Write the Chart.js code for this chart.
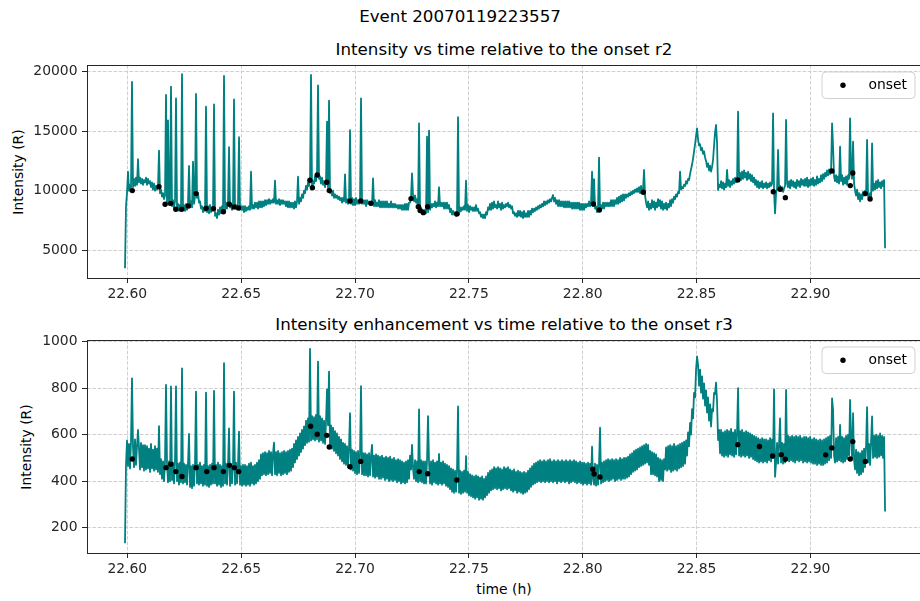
<!DOCTYPE html>
<html>
<head>
<meta charset="utf-8">
<title>Event 20070119223557</title>
<script src="https://cdn.jsdelivr.net/npm/chart.js@4.4.1/dist/chart.umd.min.js"></script>
<style>
  html, body { margin: 0; padding: 0; background: #fff; overflow: hidden; }
  #fig { position: relative; width: 920px; height: 601px; overflow: hidden;
         font-family: 'DejaVu Sans', sans-serif; color: #000; background: #fff; }
  #fig canvas { position: absolute; left: 0; }
  .lbl { position: absolute; white-space: nowrap; line-height: 1;
         transform: translate(-50%, -50%); }
  .rot { transform: translate(-50%, -50%) rotate(-90deg); }
</style>
</head>
<body>
<div id="fig">
  <div class="lbl" style="left:460px;top:16px;font-size:16.7px">Event 20070119223557</div>
  <div class="lbl" style="left:504px;top:49px;font-size:16.7px">Intensity vs time relative to the onset r2</div>
  <div class="lbl" style="left:504px;top:324px;font-size:16.7px">Intensity enhancement vs time relative to the onset r3</div>
  <div class="lbl" style="left:504px;top:590px;font-size:13.9px">time (h)</div>
  <div class="lbl rot" style="left:18.5px;top:172px;font-size:13.9px">Intensity (R)</div>
  <div class="lbl rot" style="left:27px;top:447px;font-size:13.9px">Intensity (R)</div>
  <canvas id="topChart" width="930" height="310" style="top:0px"></canvas>
  <canvas id="bottomChart" width="930" height="291" style="top:310px"></canvas>
</div>
<script>
// Sampling of the photometer record (hours UT)
const sampleStart = 22.59899;
const sampleStep = 0.0004392;

// Intensity of region r2 (R), one value per sample
const r2Intensity = [
  3480, 8700, 9800, 11600, 10000, 10500, 10200, 19150, 10300, 11000, 10400, 11100, 10500, 12650, 10700, 11100, 10600, 11000, 10500, 10900,
  10700, 11100, 10500, 11000, 10600, 10800, 10300, 10700, 10100, 10600, 10000, 10400, 10100, 10340, 13370, 9800, 10100, 9500, 9800, 9300,
  9600, 18040, 8900, 15900, 8800, 9200, 18740, 8700, 9200, 8600, 9100, 17760, 8500, 8900, 8300, 8800, 8300, 19800, 8400, 8800,
  8300, 8900, 8400, 9000, 12080, 8600, 9100, 8600, 12440, 8900, 9500, 18130, 9400, 9800, 9000, 9100, 8500, 8700, 8200, 8600,
  8300, 17060, 8200, 8700, 8100, 8800, 8200, 8600, 8300, 17260, 7900, 8100, 7700, 8400, 8000, 8600, 8100, 8700, 8200, 19640,
  8400, 9000, 8500, 9100, 13650, 8600, 8900, 8400, 8900, 17680, 8500, 8800, 8600, 8900, 14490, 8400, 8700, 8400, 8700, 8200,
  8700, 8300, 8600, 8400, 8700, 8400, 11600, 8500, 8800, 8500, 9000, 8600, 9000, 8500, 9100, 8600, 9100, 8600, 9100, 8700,
  9200, 8800, 9200, 8900, 9300, 8900, 9200, 9000, 9300, 9000, 10850, 8900, 9200, 8900, 9300, 8800, 9200, 8900, 9200, 8900,
  9100, 8700, 9100, 8600, 9100, 8600, 9000, 8600, 9000, 8500, 9100, 8600, 9100, 11180, 8900, 9400, 9100, 9700, 9400, 10000,
  9800, 10400, 10100, 10700, 10400, 11000, 19720, 10100, 10800, 10600, 11200, 10800, 11500, 18850, 11000, 11200, 10600, 11100, 10500, 10800,
  10300, 10800, 15800, 10200, 17570, 9800, 10100, 9600, 10000, 9400, 9700, 9400, 9600, 9300, 9500, 9200, 9400, 9000, 9400, 9100,
  11380, 9000, 9300, 8900, 9300, 15080, 8900, 9400, 8800, 9300, 8800, 9400, 8900, 9200, 8900, 9200, 17760, 8900, 9200, 8900,
  9200, 8700, 9200, 8900, 9100, 8800, 9100, 8800, 11040, 8700, 9200, 8700, 9000, 8700, 9200, 8600, 9100, 8600, 9100, 8600,
  9100, 8600, 9100, 8600, 8900, 8600, 9100, 8600, 8900, 8600, 8900, 8600, 8800, 8500, 8800, 8500, 8800, 8400, 8800, 8400,
  8900, 8400, 8900, 8400, 9000, 9000, 9500, 11460, 9600, 9100, 9600, 9000, 9300, 8600, 15660, 8400, 8600, 8100, 8400, 8100,
  8400, 8100, 14540, 8200, 15050, 8400, 8900, 8600, 8900, 8700, 9100, 8600, 9000, 8700, 10290, 8700, 9000, 8700, 9000, 8500,
  9000, 8500, 9000, 8500, 8800, 8200, 8500, 8000, 8300, 8000, 8200, 7900, 8200, 16170, 8000, 8600, 8300, 8600, 8400, 8700,
  8400, 10850, 8300, 8800, 8200, 8700, 8400, 8600, 8300, 8600, 8300, 8800, 8300, 8500, 8100, 8200, 7800, 8000, 7700, 8000,
  7700, 8200, 8000, 8600, 8400, 8900, 8400, 9000, 8500, 9100, 8600, 8800, 8500, 9100, 8600, 8900, 8400, 9000, 8500, 8800,
  8600, 8900, 8700, 9000, 8600, 8800, 8500, 8700, 8100, 8200, 7900, 8100, 7800, 8300, 7900, 8300, 7800, 8200, 7700, 8300,
  7800, 8100, 7800, 8300, 7800, 8300, 8000, 8500, 8200, 8500, 8300, 8600, 8400, 8700, 8500, 8800, 8600, 8900, 8700, 9100,
  8800, 9100, 8900, 9200, 9000, 9300, 9100, 9400, 9640, 9100, 9400, 8900, 9200, 8700, 9200, 8700, 9100, 8700, 9100, 8600,
  9100, 8600, 9100, 8600, 9100, 8600, 9000, 8500, 9000, 8500, 9000, 8500, 9000, 8500, 9000, 8400, 8900, 8400, 8900, 8400,
  8900, 8600, 8900, 8700, 9100, 8700, 9000, 11600, 8700, 10970, 8500, 8700, 8200, 8600, 12780, 8300, 8800, 8500, 9000, 8500,
  9000, 8700, 9000, 8700, 9000, 8700, 9200, 8700, 9200, 8700, 9200, 8900, 9400, 8900, 9500, 9000, 9600, 9100, 9700, 9200,
  9700, 9400, 9700, 9500, 9800, 9600, 9900, 9700, 10000, 9800, 10100, 9900, 10200, 9900, 10300, 9800, 10400, 9800, 10100, 11740,
  9600, 9000, 8600, 9100, 8400, 8900, 8500, 9200, 8600, 9100, 8400, 9000, 8600, 9300, 8700, 9200, 8500, 9100, 8400, 8900,
  8500, 9000, 8400, 8900, 8600, 9200, 8700, 9300, 9000, 9500, 9300, 9700, 9500, 9900, 9800, 11600, 10100, 10300, 10200, 10500,
  10400, 10800, 10600, 11000, 10900, 11400, 11800, 12200, 12700, 13300, 13900, 14600, 15240, 14300, 13800, 13900, 13400, 13600, 13100, 13300,
  12800, 12500, 12000, 12300, 11700, 12100, 11600, 12000, 12600, 13800, 14900, 15520, 14000, 10060, 10500, 10300, 10800, 10200, 10700, 10100,
  10600, 10300, 11740, 10400, 10900, 10300, 10800, 10500, 11000, 10600, 11100, 10700, 10900, 16640, 11000, 11500, 10900, 11600, 11000, 11700,
  11100, 11500, 10900, 11600, 11000, 11400, 10800, 11300, 10700, 11100, 10500, 10900, 10300, 10800, 10200, 10700, 10300, 10800, 10200, 10600,
  10300, 10700, 10200, 10600, 10300, 10700, 10400, 10600, 16500, 9900, 8100, 9800, 10200, 13420, 10100, 10400, 10000, 10300, 9900, 10200,
  10400, 15940, 10600, 10300, 10800, 10200, 10900, 10400, 10800, 10300, 10700, 10200, 10900, 10400, 10800, 10300, 11000, 10500, 10900, 10400,
  11000, 10400, 11100, 10300, 10900, 10400, 11000, 10500, 11100, 10400, 10900, 10500, 11200, 10600, 11000, 10700, 11300, 10800, 11400, 11000,
  11500, 11200, 11700, 11300, 11800, 11400, 11700, 15660, 13700, 11200, 10800, 11300, 10700, 11200, 10600, 13700, 10800, 11300, 10500, 11100,
  10600, 11200, 10500, 11300, 11000, 16080, 11400, 11000, 14120, 10600, 10000, 9600, 10100, 9300, 9800, 9100, 9700, 9300, 9900, 9600,
  10000, 9700, 14260, 9500, 9400, 9800, 9300, 13980, 10000, 10600, 10100, 10800, 10200, 10900, 10300, 10700, 10200, 10800, 10400, 10900,
  5160
];

// Intensity enhancement of region r3 (R), one value per sample
const r3Intensity = [
  133, 470, 575, 465, 560, 455, 570, 842, 545, 460, 580, 470, 550, 620, 540, 450, 565, 460, 555, 445,
  555, 450, 550, 455, 540, 440, 560, 455, 535, 445, 550, 450, 540, 440, 637, 430, 495, 410, 485, 400,
  480, 814, 475, 395, 485, 400, 807, 405, 480, 390, 490, 807, 400, 475, 385, 480, 395, 885, 390, 475,
  395, 470, 385, 475, 603, 375, 465, 370, 470, 380, 475, 785, 390, 470, 385, 480, 390, 465, 380, 470,
  385, 781, 380, 465, 375, 470, 385, 475, 390, 788, 390, 470, 380, 480, 385, 470, 375, 465, 380, 907,
  390, 475, 385, 470, 627, 380, 475, 390, 470, 785, 385, 480, 390, 470, 613, 385, 465, 380, 470, 385,
  470, 380, 465, 385, 475, 380, 480, 390, 465, 385, 470, 390, 480, 400, 490, 410, 515, 425, 520, 430,
  525, 425, 520, 430, 530, 435, 525, 425, 520, 566, 430, 525, 425, 530, 435, 520, 425, 525, 430, 530,
  435, 525, 430, 530, 440, 535, 445, 540, 460, 560, 480, 575, 495, 590, 510, 605, 525, 620, 540, 635,
  555, 660, 565, 670, 570, 969, 575, 680, 580, 675, 575, 685, 580, 914, 570, 680, 575, 670, 565, 660,
  560, 655, 795, 640, 871, 550, 640, 540, 630, 530, 615, 520, 605, 510, 590, 495, 580, 485, 565, 475,
  560, 470, 550, 460, 545, 692, 450, 535, 445, 530, 435, 525, 430, 530, 435, 520, 809, 430, 520, 425,
  520, 425, 515, 420, 520, 425, 510, 556, 420, 510, 415, 515, 420, 510, 410, 505, 410, 510, 415, 500,
  405, 505, 410, 500, 400, 505, 405, 495, 400, 500, 405, 490, 395, 495, 400, 490, 390, 485, 395, 480,
  390, 485, 395, 490, 410, 510, 450, 556, 455, 410, 490, 400, 485, 395, 709, 400, 490, 395, 485, 390,
  485, 390, 490, 680, 480, 390, 485, 385, 490, 395, 480, 390, 485, 385, 517, 390, 480, 385, 485, 390,
  475, 380, 470, 375, 465, 365, 455, 355, 450, 350, 445, 355, 450, 721, 350, 445, 345, 440, 350, 445,
  355, 508, 350, 440, 340, 430, 335, 425, 330, 420, 325, 425, 330, 420, 320, 415, 325, 420, 320, 410,
  330, 420, 340, 435, 350, 445, 360, 450, 365, 460, 370, 455, 365, 460, 370, 455, 360, 450, 365, 460,
  370, 455, 365, 460, 370, 450, 360, 445, 355, 450, 360, 440, 350, 445, 355, 440, 350, 435, 345, 440,
  350, 435, 355, 445, 365, 455, 375, 465, 385, 475, 390, 480, 395, 485, 400, 490, 395, 485, 400, 490,
  395, 485, 400, 490, 395, 495, 400, 485, 395, 490, 400, 485, 390, 490, 400, 485, 395, 490, 400, 485,
  395, 490, 400, 485, 390, 490, 395, 485, 400, 490, 395, 485, 390, 480, 395, 485, 390, 480, 385, 480,
  390, 475, 385, 480, 390, 475, 385, 548, 410, 385, 475, 380, 470, 385, 475, 630, 390, 480, 395, 485,
  400, 490, 405, 495, 400, 490, 405, 495, 410, 490, 400, 495, 405, 490, 410, 500, 405, 495, 410, 500,
  410, 500, 415, 505, 420, 515, 430, 520, 440, 530, 445, 535, 450, 540, 460, 545, 465, 550, 470, 555,
  475, 560, 480, 556, 470, 530, 430, 525, 430, 520, 425, 515, 420, 500, 400, 495, 405, 490, 400, 495,
  450, 545, 445, 550, 450, 555, 440, 550, 445, 560, 450, 550, 445, 555, 455, 560, 460, 565, 465, 570,
  475, 575, 510, 610, 550, 650, 600, 710, 670, 780, 760, 880, 936, 900, 810, 880, 780, 850, 755, 820,
  725, 790, 695, 760, 660, 730, 635, 710, 700, 780, 775, 824, 740, 577, 620, 520, 620, 510, 610, 505,
  615, 510, 620, 505, 615, 515, 625, 510, 610, 505, 620, 515, 610, 800, 510, 615, 505, 620, 510, 610,
  505, 615, 510, 610, 500, 605, 505, 600, 495, 595, 490, 590, 485, 585, 480, 580, 485, 585, 480, 580,
  485, 580, 480, 575, 490, 585, 485, 580, 500, 795, 419, 480, 565, 475, 560, 670, 480, 565, 475, 560,
  480, 792, 490, 595, 485, 590, 490, 595, 485, 590, 480, 595, 490, 590, 485, 595, 490, 585, 480, 590,
  485, 590, 480, 585, 485, 590, 480, 580, 475, 585, 475, 580, 470, 575, 475, 580, 470, 575, 470, 580,
  475, 585, 480, 590, 490, 595, 500, 756, 706, 510, 480, 585, 485, 590, 490, 642, 485, 590, 480, 585,
  485, 595, 495, 600, 510, 749, 580, 500, 692, 490, 450, 535, 435, 525, 425, 520, 430, 530, 440, 540,
  460, 550, 718, 480, 560, 470, 570, 678, 500, 595, 505, 600, 500, 595, 505, 605, 510, 595, 500, 590,
  269
];

// Onsets detected in r2
const r2OnsetTimes = [
  22.6022, 22.6139, 22.6166, 22.6191, 22.6213, 22.6239, 22.6268, 22.6302,
  22.6346, 22.6378, 22.6422, 22.6448, 22.6469, 22.6488, 22.6802, 22.6813,
  22.6834, 22.6876, 22.6887, 22.6978, 22.7025, 22.7070, 22.7246, 22.7278,
  22.7286, 22.7300, 22.7319, 22.7447, 22.8047, 22.8073, 22.8266, 22.8681,
  22.8837, 22.8867, 22.8890, 22.9094, 22.9175, 22.9186, 22.9241, 22.9262
];
const r2OnsetValues = [
  10010, 10340, 8860, 8940, 8440, 8440, 8720, 9760,
  8520, 8500, 8240, 8860, 8640, 8550, 10880, 10260,
  11320, 10710, 10010, 9140, 9140, 8940, 9340, 8660,
  8330, 8160, 8660, 8050, 8890, 8380, 9870, 10900,
  9920, 10120, 9420, 11660, 10430, 11490, 9760, 9310
];

// Onsets detected in r3
const r3OnsetTimes = [
  22.6022, 22.6170, 22.6191, 22.6213, 22.6240, 22.6302, 22.6349, 22.6381,
  22.6422, 22.6448, 22.6470, 22.6489, 22.6805, 22.6834, 22.6876, 22.6887,
  22.6978, 22.7025, 22.7282, 22.7319, 22.7447, 22.8044, 22.8050, 22.8076,
  22.8681, 22.8776, 22.8834, 22.8872, 22.8890, 22.9067, 22.9094, 22.9175,
  22.9186, 22.9241
];
const r3OnsetValues = [
  495, 458, 473, 441, 420, 458, 441, 458,
  441, 468, 458, 441, 636, 602, 597, 547,
  462, 485, 441, 432, 405, 451, 431, 418,
  557, 549, 508, 514, 494, 513, 543, 495,
  570, 485
];

// Axis ticks
const timeTicks = [22.60, 22.65, 22.70, 22.75, 22.80, 22.85, 22.90];
const r2Ticks = [5000, 10000, 15000, 20000];
const r3Ticks = [200, 400, 600, 800, 1000];

const FONT = "'DejaVu Sans', sans-serif";
const LINE_COLOR = '#008080';
const AXIS_COLOR = '#262626';

Chart.defaults.font.family = FONT;
Chart.defaults.font.size = 13.9;
Chart.defaults.color = AXIS_COLOR;

function series(values) {
  return values.map((v, i) => ({ x: sampleStart + i * sampleStep, y: v }));
}
function points(times, values) {
  return times.map((t, i) => ({ x: t, y: values[i] }));
}

// Box around the plotting area
const framePlugin = {
  id: 'frame',
  afterDatasetsDraw(chart) {
    const { ctx, chartArea: a } = chart;
    ctx.save();
    ctx.strokeStyle = AXIS_COLOR;
    ctx.lineWidth = 1;
    ctx.strokeRect(Math.round(a.left) + 0.5, Math.round(a.top) + 0.5,
                   Math.round(a.right - a.left), Math.round(a.bottom - a.top));
    ctx.restore();
  }
};

// Legend box in the upper right corner of the plotting area
const onsetLegendPlugin = {
  id: 'onsetLegend',
  afterDraw(chart) {
    const { ctx, chartArea: a } = chart;
    const ds = chart.data.datasets[0];
    const w = 93, h = 26.5, r = 4;
    const x = a.right - 7 - w, y = a.top + 7;
    ctx.save();
    ctx.beginPath();
    ctx.moveTo(x + r, y);
    ctx.lineTo(x + w - r, y);
    ctx.arcTo(x + w, y, x + w, y + r, r);
    ctx.lineTo(x + w, y + h - r);
    ctx.arcTo(x + w, y + h, x + w - r, y + h, r);
    ctx.lineTo(x + r, y + h);
    ctx.arcTo(x, y + h, x, y + h - r, r);
    ctx.lineTo(x, y + r);
    ctx.arcTo(x, y, x + r, y, r);
    ctx.closePath();
    ctx.fillStyle = 'rgba(255,255,255,0.8)';
    ctx.fill();
    ctx.strokeStyle = 'rgba(204,204,204,0.9)';
    ctx.lineWidth = 1;
    ctx.stroke();
    ctx.beginPath();
    ctx.arc(x + 21, y + h / 2, 2.7, 0, Math.PI * 2);
    ctx.fillStyle = ds.backgroundColor;
    ctx.fill();
    ctx.fillStyle = '#000';
    ctx.font = '13.9px ' + FONT;
    ctx.textBaseline = 'middle';
    ctx.textAlign = 'left';
    ctx.fillText(ds.label, x + 46.5, y + h / 2 + 0.5);
    ctx.restore();
  }
};

function makeChart(canvasId, values, onsetT, onsetV, yTicks, yMin, yMax, padTop, xHeight) {
  return new Chart(document.getElementById(canvasId), {
    type: 'line',
    data: {
      datasets: [
        {
          type: 'scatter',
          label: 'onset',
          data: points(onsetT, onsetV),
          backgroundColor: '#000',
          borderWidth: 0,
          pointRadius: 2.7,
          order: 0
        },
        {
          label: 'intensity',
          data: series(values),
          borderColor: LINE_COLOR,
          borderWidth: 1.8,
          borderJoinStyle: 'round',
          pointRadius: 0,
          tension: 0,
          fill: false,
          order: 1
        }
      ]
    },
    options: {
      responsive: false,
      animation: false,
      events: [],
      layout: { padding: { top: padTop, right: 8, left: 0, bottom: 0 } },
      plugins: { legend: { display: false }, tooltip: { enabled: false }, title: { display: false } },
      scales: {
        x: {
          type: 'linear',
          min: 22.5823,
          max: 22.9490,
          afterFit(s) { s.height = xHeight; },
          afterBuildTicks(s) { s.ticks = timeTicks.map(v => ({ value: v })); },
          ticks: { callback: v => Number(v).toFixed(2), padding: 3.5, maxRotation: 0, color: AXIS_COLOR },
          grid: { color: '#d0d0d0', lineWidth: 1, tickColor: AXIS_COLOR, tickLength: 5, tickWidth: 1,
                  tickBorderDash: [100, 0] },
          border: { display: false, dash: [3.7, 1.6] }
        },
        y: {
          type: 'linear',
          min: yMin,
          max: yMax,
          afterFit(s) { s.width = 87; },
          afterBuildTicks(s) { s.ticks = yTicks.map(v => ({ value: v })); },
          ticks: { callback: v => String(v), padding: 4.5, color: AXIS_COLOR },
          grid: { color: '#d0d0d0', lineWidth: 1, tickColor: AXIS_COLOR, tickLength: 5, tickWidth: 1,
                  tickBorderDash: [100, 0] },
          border: { display: false, dash: [3.7, 1.6] }
        }
      }
    },
    plugins: [framePlugin, onsetLegendPlugin]
  });
}

makeChart('topChart', r2Intensity, r2OnsetTimes, r2OnsetValues, r2Ticks, 2670, 20560, 65, 32);
makeChart('bottomChart', r3Intensity, r3OnsetTimes, r3OnsetValues, r3Ticks, 91, 1007, 30, 48);
</script>
</body>
</html>
